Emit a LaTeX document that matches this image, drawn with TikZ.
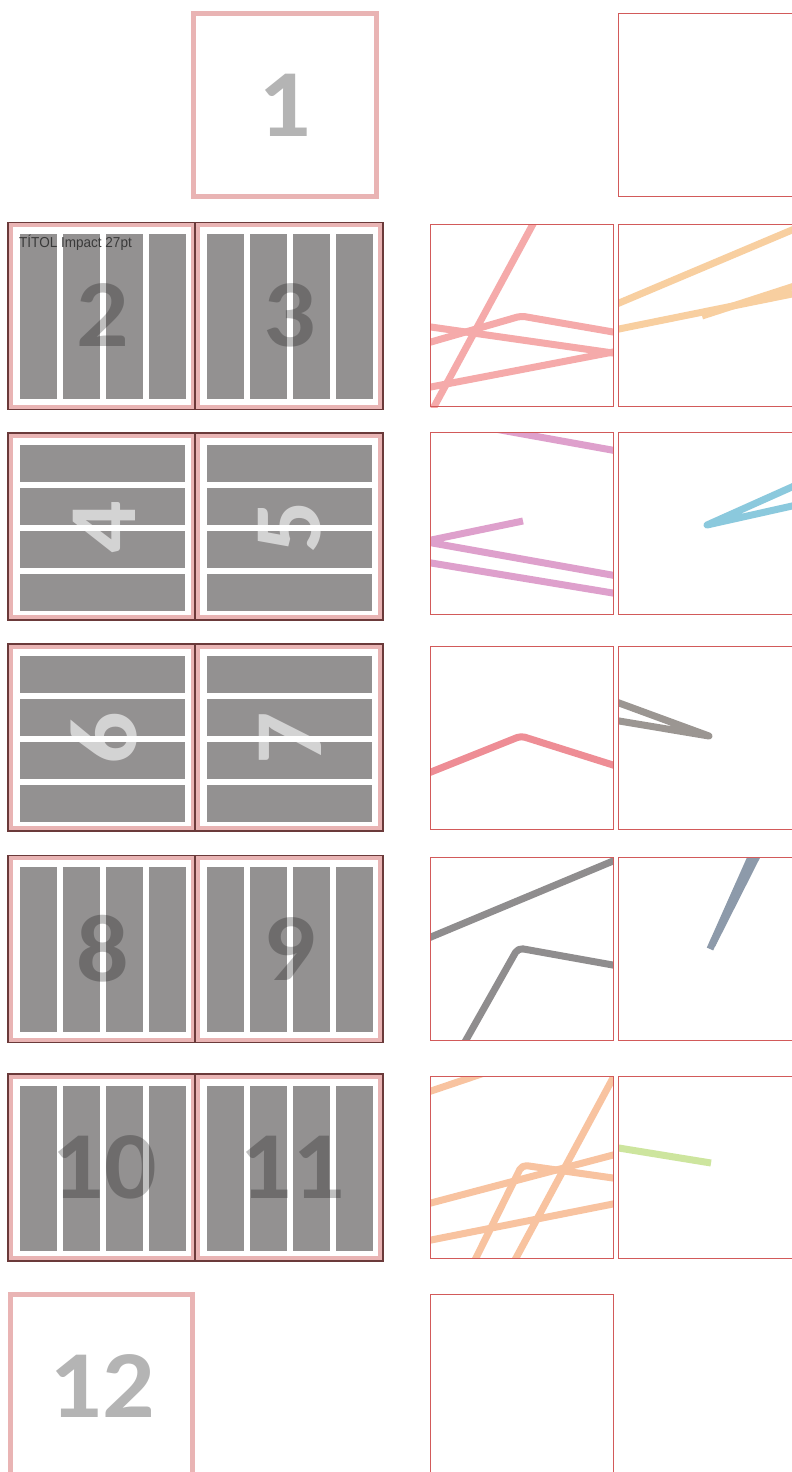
\documentclass[tikz,border=0pt]{standalone}
\usepackage{fontspec}
\usepackage{tikz}
\usetikzlibrary{calc}
\newfontfamily\numfont{Carlito}[FakeStretch=1.08]
\newfontfamily\labelfont{Liberation Sans}[FakeStretch=0.94]
\definecolor{SheetRed}{HTML}{D25A5A}
\definecolor{PageEdge}{HTML}{6B3A3A}
\definecolor{PagePink}{HTML}{E9B4B4}
\definecolor{ColGray}{HTML}{939191}
\definecolor{NumGray}{HTML}{B4B4B4}
\definecolor{TitleInk}{HTML}{3A3A3A}
\definecolor{RouteSalmon}{HTML}{F5AAAA}
\definecolor{RouteApricot}{HTML}{F8CFA0}
\definecolor{RouteOrchid}{HTML}{DEA0CC}
\definecolor{RouteSky}{HTML}{8BC9DD}
\definecolor{RouteRose}{HTML}{EE8D95}
\definecolor{RouteTaupe}{HTML}{9B9692}
\definecolor{RouteGray}{HTML}{8F8D8E}
\definecolor{RouteSlate}{HTML}{8D9AAA}
\definecolor{RoutePeach}{HTML}{F8C3A0}
\definecolor{RouteLime}{HTML}{CDE59E}

\begin{document}
\begin{tikzpicture}[x=1pt,y=-1pt,
    pagerim/.style={draw=PagePink,line width=4pt},
    pageedge/.style={draw=PageEdge,line width=1.2pt},
    soloedge/.style={draw=PagePink,line width=5pt},
    textcol/.style={fill=ColGray},
    sheet/.style={draw=SheetRed,line width=1pt},
    route/.style={line width=7pt,line join=round},
    bignum/.style={font=\numfont\bfseries\fontsize{96}{96}\selectfont,inner sep=0pt},
    darknum/.style={bignum,text=black,text opacity=0.25},
    lightnum/.style={bignum,text=white,text opacity=0.6,rotate=90},
    palenum/.style={bignum,text=NumGray}]
  \useasboundingbox (0,0) rectangle (792,1472);
  \clip (0,0) rectangle (792,1472);
  \fill[white] (0,0) rectangle (792,1472);

  % single pages 1 and 12
  \draw[soloedge] (193.5,13.5) rectangle (376.5,196.5);
  \node[palenum] (p1) at (285,105) {1};
  \draw[soloedge] (10.5,1294.8) rectangle (192.5,1481);
  \node[palenum] (p12) at (102,1386) {12};

  % spreads: rims and edges
  \foreach \t in {222.5,433,644,855.5,1074} {
    \foreach \l in {8,195}
      \draw[pagerim] (\l+2.8,\t+2.8) rectangle (\l+185,\t+184.2);
    \draw[pageedge] (8,\t) rectangle (383,\t+187) (195,\t) -- (195,\t+187);
  }
  % text columns
  \foreach \t in {222.5,855.5,1074}
    \foreach \l in {8,195}
      \foreach \i in {0,...,3}
        \fill[textcol] (\l+11.5+43*\i,\t+11.5) rectangle ++(37,165);
  % text bars (turned pages)
  \foreach \t in {433,644}
    \foreach \l in {8,195}
      \foreach \j in {0,...,3}
        \fill[textcol] (\l+12,\t+11.5+43*\j) rectangle ++(165,37);

  \node[font=\labelfont\fontsize{14.4}{16}\selectfont,text=TitleInk,
        anchor=base west,inner sep=0pt] (title) at (19,247) {TÍTOL Impact 27pt};

  \node[darknum] (p2) at (102.5,315) {2};
  \node[darknum] (p3) at (289.5,315) {3};
  \node[lightnum] (p4) at (104,527.5) {4};
  \node[lightnum] (p5) at (290,527.5) {5};
  \node[lightnum] (p6) at (104,738.5) {6};
  \node[lightnum] (p7) at (290,738.5) {7};
  \node[darknum] (p8) at (102.5,949) {8};
  \node[darknum] (p9) at (289.5,949) {9};
  \node[darknum] (p10) at (104,1167) {10};
  \node[darknum] (p11) at (292,1167) {11};

  % map pieces, clipped to each sheet
  \begin{scope}
    \clip (430.5,224.3) rectangle (613.3,407);
    \draw[route,RouteSalmon] (540.6,210) -- (426.9,420);
    \draw[route,RouteSalmon,rounded corners=4pt] (424,344) -- (521,316) -- (620,333.2);
    \draw[route,RouteSalmon] (424,326) -- (620,354);
    \draw[route,RouteSalmon] (424,388.3) -- (620,350.7);
  \end{scope}
  \begin{scope}
    \clip (618.7,224.3) rectangle (801.5,407);
    \draw[route,RouteApricot] (612,306) -- (810,222.4);
    \draw[route,RouteApricot] (612,330.4) -- (810,290.4);
    \draw[route,RouteApricot] (702,316) -- (810,281);
  \end{scope}
  \begin{scope}
    \clip (430.5,432) rectangle (613.3,614.3);
    \draw[route,RouteOrchid] (424,416.2) -- (620,451.5);
    \draw[route,RouteOrchid] (523,521) -- (424,541.5) -- (620,576.5);
    \draw[route,RouteOrchid] (424,561.8) -- (620,594.2);
  \end{scope}
  \begin{scope}
    \clip (618.7,432) rectangle (801.5,614.3);
    \draw[route,RouteSky] (810,478.9) -- (707,525) -- (810,502);
  \end{scope}
  \begin{scope}
    \clip (430.5,646.7) rectangle (613.3,829);
    \draw[route,RouteRose,rounded corners=4pt] (424,774.8) -- (521,736) -- (620,767.2);
  \end{scope}
  \begin{scope}
    \clip (618.7,646.7) rectangle (801.5,829);
    \draw[route,RouteTaupe] (600,696) -- (709,736) -- (600,717.8);
  \end{scope}
  \begin{scope}
    \clip (430.5,857.7) rectangle (613.3,1040.3);
    \draw[route,RouteGray] (424,939.9) -- (620,858.1);
    \draw[route,RouteGray,rounded corners=5pt] (461.5,1048) -- (518,948) -- (620,966.3);
  \end{scope}
  \begin{scope}
    \clip (618.7,857.7) rectangle (801.5,1040.3);
    \draw[route,RouteSlate] (710,949) -- (754.1,850);
    \draw[route,RouteSlate] (712,945) -- (760,850);
  \end{scope}
  \begin{scope}
    \clip (430.5,1076.3) rectangle (613.3,1258.7);
    \draw[route,RoutePeach] (424,1093.4) -- (493,1070);
    \draw[route,RoutePeach] (511.7,1266) -- (617.3,1070);
    \draw[route,RoutePeach] (424,1204.8) -- (620,1153.2);
    \draw[route,RoutePeach] (424,1241.4) -- (620,1202.6);
    \draw[route,RoutePeach,rounded corners=5pt] (472,1266) -- (522,1165) -- (620,1179);
  \end{scope}
  \begin{scope}
    \clip (618.7,1076.3) rectangle (801.5,1258.7);
    \draw[route,RouteLime] (612,1146.9) -- (711,1163);
  \end{scope}

  % sheet outlines
  \draw[sheet] (618.7,14) rectangle (801.5,196.7);
  \foreach \t in {224.3,432,646.7,857.7,1076.3} {
    \draw[sheet] (430.5,\t) rectangle ++(182.8,182.5);
    \draw[sheet] (618.7,\t) rectangle ++(182.8,182.5);
  }
  \draw[sheet] (430.5,1294.3) rectangle ++(182.8,182.5);
\end{tikzpicture}
\end{document}
